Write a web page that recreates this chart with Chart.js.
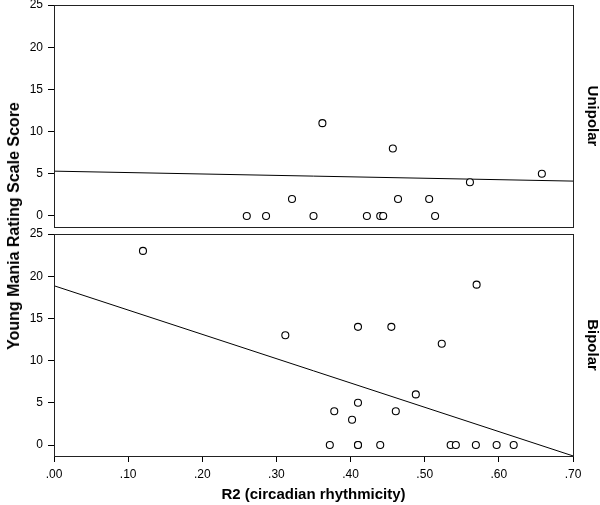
<!DOCTYPE html>
<html>
<head>
<meta charset="utf-8">
<script src="https://cdn.jsdelivr.net/npm/chart.js@4.4.1/dist/chart.umd.min.js"></script>
<style>
  body { margin: 0; background: #fff; }
  #wrap { position: relative; width: 600px; height: 505px; }
  canvas { position: absolute; left: 0; }
  #ytitle {
    position: absolute; left: 14px; top: 226px;
    transform: translate(-50%, -50%) rotate(-90deg);
    white-space: nowrap;
    font: bold 16px "Liberation Sans", Arial, sans-serif;
    color: #000;
  }
</style>
</head>
<body>
<div id="wrap">
  <canvas id="uniChart" width="600" height="232" style="top:0"></canvas>
  <canvas id="bipChart" width="600" height="283" style="top:222px"></canvas>
  <div id="ytitle">Young Mania Rating Scale Score</div>
</div>
<script>
// Unipolar panel
const uniX = [0.260, 0.286, 0.321, 0.350, 0.362, 0.422, 0.440, 0.444, 0.457, 0.464, 0.506, 0.514, 0.561, 0.658];
const uniY = [0, 0, 2, 0, 11, 0, 0, 0, 8, 2, 2, 0, 4, 5];
const uniFitX = [0, 0.7];
const uniFitY = [5.31, 4.13];

// Bipolar panel
const bipX = [0.120, 0.312, 0.372, 0.378, 0.402, 0.410, 0.410, 0.410, 0.410, 0.440, 0.455, 0.461, 0.488, 0.523, 0.535, 0.542, 0.569, 0.570, 0.597, 0.620];
const bipY = [23, 13, 0, 4, 3, 14, 5, 0, 0, 0, 14, 4, 6, 12, 0, 0, 0, 19, 0, 0];
const bipFitX = [0, 0.7];
const bipFitY = [18.87, -1.29];

const yTicks = [0, 5, 10, 15, 20, 25];
const xTicks = [0, 0.1, 0.2, 0.3, 0.4, 0.5, 0.6, 0.7];

const FONT = '"Liberation Sans", Arial, sans-serif';

function pts(xs, ys) {
  return xs.map((x, i) => ({ x: x, y: ys[i] }));
}

// box around plot area + rotated strip label on the right
const framePlugin = {
  id: 'frame',
  afterDraw(chart, args, opts) {
    const ctx = chart.ctx;
    const a = chart.chartArea;
    ctx.save();
    ctx.strokeStyle = '#222';
    ctx.lineWidth = 1;
    ctx.strokeRect(Math.round(a.left) + 0.5, Math.round(a.top) + 0.5, Math.round(a.width), Math.round(a.height));
    ctx.translate(a.right + 19, (a.top + a.bottom) / 2);
    ctx.rotate(Math.PI / 2);
    ctx.font = 'bold 15px ' + FONT;
    ctx.fillStyle = '#000';
    ctx.textAlign = 'center';
    ctx.textBaseline = 'middle';
    ctx.fillText(opts.label, 0, 0);
    ctx.restore();
  }
};

function yScale() {
  return {
    min: -1.3,
    max: 25,
    afterFit: function(scale) {
      scale.width = 54;
      scale.paddingTop = 0;
      scale.paddingBottom = 0;
    },
    afterBuildTicks: function(scale) { scale.ticks = yTicks.map(v => ({ value: v })); },
    ticks: { font: { size: 12, family: FONT }, color: '#000', padding: 5 },
    grid: { drawOnChartArea: false, tickLength: 6, color: '#000' },
    border: { color: '#000' }
  };
}

function makeChart(id, xs, ys, fx, fy, label, showX) {
  return new Chart(document.getElementById(id), {
    type: 'scatter',
    data: {
      datasets: [
        {
          type: 'line',
          data: pts(fx, fy),
          borderColor: '#000',
          borderWidth: 1,
          pointRadius: 0,
          fill: false,
          order: 2
        },
        {
          data: pts(xs, ys),
          pointRadius: 3.5,
          pointBackgroundColor: '#fff',
          pointBorderColor: '#000',
          pointBorderWidth: 1.1,
          clip: false,
          order: 1
        }
      ]
    },
    options: {
      responsive: false,
      animation: false,
      layout: { padding: { top: showX ? 12 : 5, right: 27, bottom: showX ? 0 : 4, left: 0 } },
      plugins: { legend: { display: false }, tooltip: { enabled: false }, frame: { label: label } },
      scales: {
        x: {
          type: 'linear',
          display: showX,
          min: 0,
          max: 0.7,
          afterFit: function(scale) { if (showX) scale.height = 49; },
          afterBuildTicks: function(scale) { scale.ticks = xTicks.map(v => ({ value: v })); },
          ticks: {
            font: { size: 12, family: FONT },
            color: '#000',
            padding: 5,
            maxRotation: 0,
            callback: v => v.toFixed(2).replace(/^0/, '')
          },
          grid: { drawOnChartArea: false, tickLength: 6, color: '#000' },
          border: { color: '#000' },
          title: {
            display: true,
            text: 'R2 (circadian rhythmicity)',
            color: '#000',
            font: { size: 15, weight: 'bold', family: FONT },
            padding: { top: 0, bottom: 1 }
          }
        },
        y: yScale()
      }
    },
    plugins: [framePlugin]
  });
}

makeChart('uniChart', uniX, uniY, uniFitX, uniFitY, 'Unipolar', false);
makeChart('bipChart', bipX, bipY, bipFitX, bipFitY, 'Bipolar', true);
</script>
</body>
</html>
